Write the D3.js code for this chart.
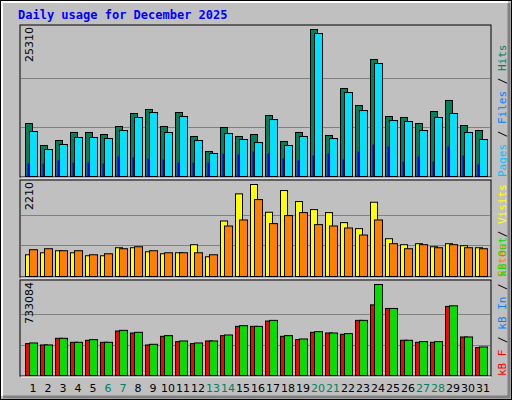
<!DOCTYPE html>
<html><head><meta charset="utf-8">
<script src="https://cdn.jsdelivr.net/npm/d3@7"></script>
<style>body{margin:0;background:#fff}svg{display:block}</style>
</head><body><svg id="c" width="512" height="400"></svg>
<script>
const days = d3.range(1, 32);
const weekends = [6, 7, 13, 14, 20, 21, 27, 28];
const hits = [9120,5340,6200,7580,7580,7230,8610,10850,11540,8610,11020,6890,4300,8440,6890,7230,10500,6030,7580,25310,7060,15150,12220,20150,10330,10160,9120,11190,13090,8780,7920];
const files = [7750,4650,5510,6720,6720,6540,7920,10160,11020,7580,10330,6200,3960,7400,6370,5850,9810,5340,6890,24620,6540,14460,11360,19460,9640,9470,7920,10160,10850,7580,6370];
const pages = [2240,2240,2760,2410,2410,2240,3440,3270,3100,2930,2410,2410,2410,3960,3790,4300,3960,3100,2760,3620,3960,2930,4300,5510,5170,2580,3440,2580,5170,3620,2070];
const visits = [522,570,619,570,498,498,691,691,594,546,570,764,474,1334,1985,2210,1543,2065,1800,1607,1535,1294,1150,1784,908,764,788,715,788,739,691];
const sites = [643,667,619,619,522,546,667,715,619,570,570,570,522,1213,1358,1848,1270,1463,1535,1246,1213,1165,996,1358,788,667,764,691,764,691,667];
const kbF = [256800,246100,299600,267500,283600,267500,358500,342500,246100,315700,272900,256800,278200,321000,395900,395900,438700,315700,288900,347800,342500,331800,444100,569100,540000,283600,267500,267500,556700,310300,224700];
const kbOut = [262100,246100,299600,267500,288900,267500,363800,347800,251400,321000,278200,262100,278200,326400,401200,395900,444100,321000,294300,353100,342500,337100,444100,733084,540000,283600,272900,272900,561400,310300,230000];
const kbIn = days.map(() => 1500);
const maxTop = 25310, maxMid = 2210, maxBot = 733084;

const svg = d3.select("#c");
const FONT = "DejaVu Sans, sans-serif", MONO = "DejaVu Sans Mono, monospace";
svg.append("rect").attr("width",512).attr("height",400).attr("fill","#c0c0c0");
svg.append("rect").attr("x",0.5).attr("y",0.5).attr("width",511).attr("height",399).attr("fill","none").attr("stroke","#000");
svg.append("path").attr("d","M2,396V2H508").attr("fill","none").attr("stroke","#fff").attr("stroke-width",2);
svg.append("path").attr("d","M509,3V397H3").attr("fill","none").attr("stroke","#808080").attr("stroke-width",3);

svg.append("text").attr("x",18).attr("y",19).attr("font-family",MONO).attr("font-weight","bold")
  .attr("font-size",12).attr("fill","#0000ff").text("Daily usage for December 2025");

const x = d3.scaleLinear().domain([1,31]).range([25,475]);

function panel(top, bottom, maxY, max, series, labelTxt, rightParts){
  svg.append("rect").attr("x",20).attr("y",top).attr("width",471).attr("height",bottom-top)
    .attr("fill","#c0c0c0").attr("stroke","#000");
  svg.append("line").attr("x1",21).attr("x2",491).attr("y1",bottom+1).attr("y2",bottom+1).attr("stroke","#fff");
  const y = d3.scaleLinear().domain([0,max]).range([bottom-1, maxY]);
  [max/3, 2*max/3].forEach(v => svg.append("line").attr("x1",21).attr("x2",490)
    .attr("y1",Math.round(y(v))+0.5).attr("y2",Math.round(y(v))+0.5).attr("stroke","#808080"));
  series.forEach(s => {
    svg.append("g").selectAll("rect").data(s.data).join("rect")
      .attr("x",(d,i)=>x(i+1)+s.dx+0.5).attr("width",s.w)
      .attr("y",d=>y(d)+0.5).attr("height",d=>Math.max(0,y(0)-y(d)))
      .attr("fill",s.color).attr("stroke",s.stroke?"#000":"none");
  });
  svg.append("text").attr("transform",`translate(33,${top+2}) rotate(-90)`).attr("text-anchor","end")
    .attr("font-family",FONT).attr("font-size",11).attr("fill","#000").text(labelTxt);
  const t = svg.append("text").attr("transform",`translate(506,${bottom}) rotate(-90)`)
    .attr("font-family",MONO).attr("font-size",11);
  rightParts.forEach(p => t.append("tspan").attr("fill",p[1]).text(p[0]));
}

panel(25, 177, 29, maxTop, [
  {data:hits, dx:0, w:7, color:"#00805c", stroke:true},
  {data:files, dx:4, w:8, color:"#00e0ff", stroke:true},
  {data:pages, dx:2, w:1.5, color:"#0000ff", stroke:false}
], "25310", [["Pages","#00c0ff"],[" / ","#000"],["Files","#0080ff"],[" / ","#000"],["Hits","#00805c"]]);

panel(180, 277, 184, maxMid, [
  {data:visits, dx:0, w:7, color:"#ffff00", stroke:true},
  {data:sites, dx:4, w:8, color:"#ff8000", stroke:true}
], "2210", [["Sites","#ff8000"],[" / ","#000"],["Visits","#ffff00"]]);

panel(280, 376, 284, maxBot, [
  {data:kbF, dx:0, w:7, color:"#ff0000", stroke:true},
  {data:kbOut, dx:4, w:8, color:"#00e000", stroke:true},
  {data:kbIn, dx:2, w:1.5, color:"#0080ff", stroke:false}
], "733084", [["kB F","#ff0000"],[" / ","#000"],["kB In","#0080ff"],[" / ","#000"],["kB Out","#00e000"]]);

svg.append("g").selectAll("text").data(days).join("text")
  .attr("x",d=>x(d)+8).attr("y",392).attr("text-anchor","middle")
  .attr("font-family",FONT).attr("font-size",11)
  .attr("fill",d=>weekends.includes(d)?"#00805c":"#000").text(d=>d);
</script></body></html>
